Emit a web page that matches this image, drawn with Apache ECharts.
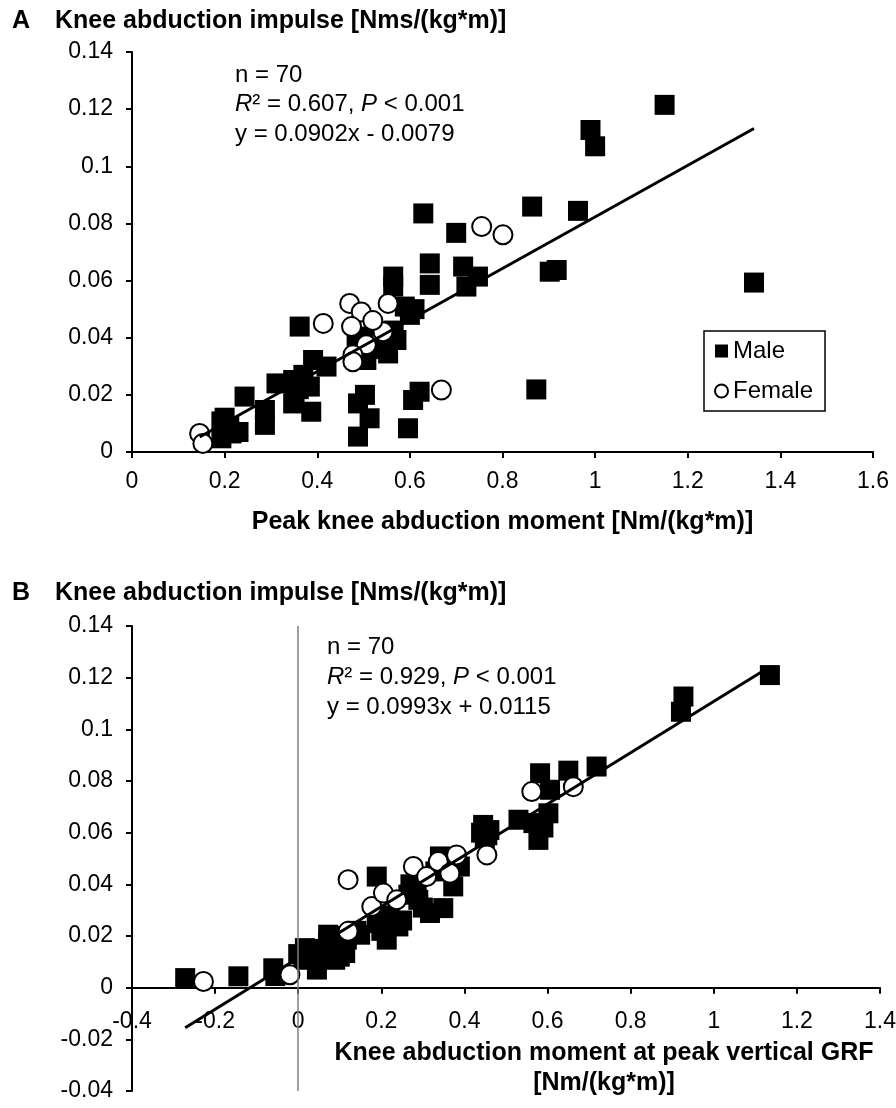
<!DOCTYPE html>
<html><head><meta charset="utf-8">
<script src="https://cdn.jsdelivr.net/npm/echarts@6/dist/echarts.min.js"></script>
<style>html,body{margin:0;padding:0;background:#fff}#c{width:896px;height:1108px}</style>
</head><body><div id="c"></div>
<script>
// Panel A: peak knee abduction moment (x) vs knee abduction impulse (y)
const maleA = [[1.15,0.1215],[0.99,0.1127],[1.0,0.107],[0.864,0.0859],[0.963,0.0844],[0.629,0.0835],[0.70,0.0767],[0.643,0.066],[0.715,0.0649],[0.643,0.0585],[0.564,0.0614],[0.564,0.0579],[0.722,0.0579],[0.747,0.0614],[0.902,0.0631],[0.917,0.0637],[1.343,0.0593],[0.873,0.0219],[0.589,0.0509],[0.60,0.048],[0.362,0.0439],[0.193,0.0107],[0.215,0.0065],[0.193,0.0048],[0.243,0.0194],[0.287,0.0147],[0.287,0.0095],[0.312,0.024],[0.348,0.0252],[0.351,0.0205],[0.348,0.017],[0.387,0.0141],[0.384,0.0229],[0.391,0.0322],[0.42,0.0299],[0.485,0.0404],[0.506,0.0322],[0.553,0.0345],[0.571,0.0392],[0.565,0.0425],[0.503,0.02],[0.488,0.017],[0.513,0.0118],[0.488,0.0054],[0.621,0.0211],[0.607,0.0182],[0.596,0.0083],[0.21,0.009],[0.23,0.007],[0.36,0.022],[0.5,0.04],[0.53,0.036],[0.61,0.05],[0.2,0.012],[0.37,0.027]];
const femaleA = [[0.146,0.0065],[0.153,0.003],[0.413,0.045],[0.47,0.052],[0.495,0.049],[0.553,0.052],[0.474,0.0439],[0.542,0.0421],[0.506,0.0375],[0.477,0.034],[0.477,0.0316],[0.52,0.046],[0.668,0.0217],[0.755,0.0789],[0.801,0.076]];
const fitA = {slope: 0.0902, intercept: -0.0079};

// Panel B: knee abduction moment at peak vertical GRF (x) vs knee abduction impulse (y)
const maleB = [[-0.272,0.0037],[-0.144,0.0044],[-0.06,0.0075],[-0.055,0.0045],[0.016,0.0153],[0.012,0.0108],[0.045,0.007],[0.072,0.0179],[0.089,0.0108],[0.113,0.0134],[0.117,0.0186],[0.072,0.0205],[0.03,0.012],[0.05,0.013],[0.149,0.0205],[0.189,0.025],[0.213,0.0186],[0.241,0.0237],[0.189,0.043],[0.285,0.0379],[0.289,0.034],[0.317,0.0289],[0.349,0.0308],[0.373,0.0392],[0.389,0.0469],[0.341,0.0508],[0.445,0.063],[0.449,0.0579],[0.44,0.06],[0.46,0.061],[0.53,0.065],[0.566,0.0637],[0.602,0.0675],[0.578,0.0572],[0.582,0.083],[0.65,0.084],[0.718,0.0856],[0.606,0.0766],[0.927,0.1127],[0.921,0.1068],[1.135,0.121],[0.27,0.04],[0.25,0.026],[0.10,0.012],[0.06,0.015],[0.33,0.045],[0.14,0.022],[0.22,0.028],[0.0,0.013],[0.085,0.02],[0.2,0.022],[0.265,0.036],[0.455,0.059],[0.59,0.062],[0.3,0.031]];
const femaleB = [[-0.228,0.0024],[-0.02,0.005],[0.12,0.0418],[0.12,0.0218],[0.177,0.0314],[0.205,0.0366],[0.237,0.034],[0.277,0.0469],[0.309,0.043],[0.337,0.0488],[0.365,0.0443],[0.381,0.0514],[0.454,0.0514],[0.562,0.0759],[0.662,0.0778]];
const fitB = {slope: 0.0993, intercept: 0.0115};

const statsA = ['n = 70', '{i|R}² = 0.607, {i|P} < 0.001', 'y = 0.0902x - 0.0079'];
const statsB = ['n = 70', '{i|R}² = 0.929, {i|P} < 0.001', 'y = 0.0993x + 0.0115'];
const titleA = 'Knee abduction impulse [Nms/(kg*m)]';
const titleB = 'Knee abduction impulse [Nms/(kg*m)]';
const xNameA = 'Peak knee abduction moment [Nm/(kg*m)]';
const xNameB = 'Knee abduction moment at peak vertical GRF\n[Nm/(kg*m)]';

const FONT = '"Liberation Sans", Arial, sans-serif';
const fmt = v => String(+(+v).toFixed(2));

function fitLine(pts, fit) {
  const xs = pts.map(p => p[0]);
  const lo = Math.min(...xs), hi = Math.max(...xs);
  return [[lo, fit.slope*lo + fit.intercept], [hi, fit.slope*hi + fit.intercept]];
}

const gridA = {left:132, top:52, width:741, height:400, outerBoundsMode:'none'};
const gridB = {left:132, top:626, width:748, height:465, outerBoundsMode:'none'};
const yRangeB = [-0.04, 0.14];
// place panel B's x axis on y = 0 by offsetting it up from the grid bottom
const offsetB = -((0 - yRangeB[0]) / (yRangeB[1] - yRangeB[0])) * gridB.height;

const axisLineStyle = {color:'#000', width:2};
function xAxisDef(gi, min, max, offset, margin) {
  return {gridIndex: gi, type:'value', min, max, interval:0.2, position:'bottom', offset: offset || 0,
    axisLine:{show:true, onZero:false, lineStyle:axisLineStyle},
    axisTick:{show:true, length:6, lineStyle:{color:'#000', width:2}},
    splitLine:{show:false},
    axisLabel:{formatter:fmt, color:'#000', fontSize:23, fontFamily:FONT, margin}};
}
function yAxisDef(gi, min, max) {
  return {gridIndex: gi, type:'value', min, max, interval:0.02,
    axisLine:{show:true, onZero:false, lineStyle:axisLineStyle},
    axisTick:{show:true, length:6, lineStyle:{color:'#000', width:2}},
    splitLine:{show:false},
    axisLabel:{formatter:fmt, color:'#000', fontSize:23, fontFamily:FONT, margin:19}};
}
const maleStyle = {symbol:'rect', symbolSize:20, itemStyle:{color:'#000', opacity:1}};
const femaleStyle = {symbol:'circle', symbolSize:19, itemStyle:{color:'#fff', borderColor:'#000', borderWidth:2, opacity:1}};

function statText(lines, x, y0, dy) {
  return lines.map((t, i) => ({type:'text', x, y: y0 + i*dy, z:10,
    style:{text:t, fill:'#000', font:'24px ' + FONT, verticalAlign:'middle',
      rich:{i:{fontStyle:'italic', fontSize:24, fontFamily:FONT, fill:'#000'}}}}));
}

const chart = echarts.init(document.getElementById('c'), null, {renderer:'canvas'});
chart.setOption({
  animation:false,
  backgroundColor:'#fff',
  textStyle:{fontFamily:FONT},
  grid:[gridA, gridB],
  xAxis:[
    Object.assign(xAxisDef(0, 0, 1.6, 0, 18), {name:xNameA, nameLocation:'middle', nameGap:58,
      nameTextStyle:{fontSize:25, fontWeight:'bold', color:'#000', fontFamily:FONT}}),
    xAxisDef(1, -0.4, 1.4, offsetB, 22)
  ],
  yAxis:[ yAxisDef(0, 0, 0.14), yAxisDef(1, yRangeB[0], yRangeB[1]) ],
  legend:{
    data:[{name:'Male', icon:'rect'}, {name:'Female', icon:'circle'}],
    orient:'vertical', left:704, top:331,
    padding:[8,12,8,10], itemGap:16, itemWidth:13, itemHeight:13,
    borderColor:'#000', borderWidth:1.5, backgroundColor:'#fff',
    textStyle:{fontSize:24, lineHeight:24, color:'#000', fontFamily:FONT},
    selectedMode:false
  },
  series:[
    Object.assign({type:'scatter', name:'Male', xAxisIndex:0, yAxisIndex:0, data:maleA, z:2}, maleStyle),
    Object.assign({type:'scatter', name:'Female', xAxisIndex:0, yAxisIndex:0, data:femaleA, z:3}, femaleStyle),
    {type:'line', name:'fitA', xAxisIndex:0, yAxisIndex:0, data:fitLine(maleA.concat(femaleA), fitA),
      showSymbol:false, symbol:'none', lineStyle:{color:'#000', width:3}, z:4},
    Object.assign({type:'scatter', name:'Male', xAxisIndex:1, yAxisIndex:1, data:maleB, z:2,
      markLine:{silent:true, symbol:'none', label:{show:false},
        lineStyle:{color:'#7f7f7f', width:1.5, type:'solid'}, data:[{xAxis:0}]}}, maleStyle),
    Object.assign({type:'scatter', name:'Female', xAxisIndex:1, yAxisIndex:1, data:femaleB, z:3}, femaleStyle),
    {type:'line', name:'fitB', xAxisIndex:1, yAxisIndex:1, data:fitLine(maleB.concat(femaleB), fitB),
      showSymbol:false, symbol:'none', lineStyle:{color:'#000', width:3}, z:4}
  ],
  graphic:[
    {type:'text', x:12, y:21, style:{text:'A', fill:'#000', font:'bold 25px ' + FONT, verticalAlign:'middle'}},
    {type:'text', x:55, y:21, style:{text:titleA, fill:'#000', font:'bold 25px ' + FONT, verticalAlign:'middle'}},
    {type:'text', x:12, y:593, style:{text:'B', fill:'#000', font:'bold 25px ' + FONT, verticalAlign:'middle'}},
    {type:'text', x:55, y:593, style:{text:titleB, fill:'#000', font:'bold 25px ' + FONT, verticalAlign:'middle'}},
    {type:'text', x:604, y:1068, style:{text:xNameB, fill:'#000', font:'bold 25px ' + FONT,
      align:'center', verticalAlign:'middle', lineHeight:30}},
    ...statText(statsA, 235, 75, 29.5),
    ...statText(statsB, 327, 647, 30)
  ]
});
</script>
</body></html>
